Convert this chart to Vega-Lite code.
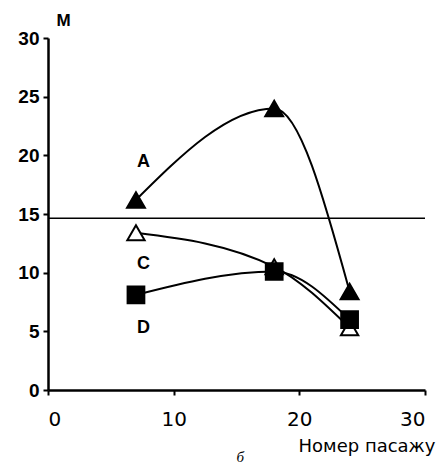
{
  "$schema": "https://vega.github.io/schema/vega-lite/v6.json",
  "autosize": "none",
  "width": 377,
  "height": 352,
  "padding": {"left": 48, "top": 38, "right": 20, "bottom": 78},
  "background": "white",
  "config": {
    "view": {"stroke": null},
    "font": "Liberation Sans",
    "axis": {"grid": false, "domainColor": "black", "domainWidth": 2.5, "tickColor": "black", "tickWidth": 2, "tickSize": 5, "labelColor": "black", "titleColor": "black"}
  },
  "datasets": {
    "series": [
      {"series": "A", "x": 7, "y": 16.2},
      {"series": "A", "x": 18, "y": 24},
      {"series": "A", "x": 24, "y": 8.4},
      {"series": "C", "x": 7, "y": 13.4},
      {"series": "C", "x": 18, "y": 10.5},
      {"series": "C", "x": 24, "y": 5.3},
      {"series": "D", "x": 7, "y": 8.1},
      {"series": "D", "x": 18, "y": 10.1},
      {"series": "D", "x": 24, "y": 6.0}
    ],
    "labels": [
      {"label": "A", "x": 7.6, "y": 19.4},
      {"label": "C", "x": 7.6, "y": 10.7},
      {"label": "D", "x": 7.6, "y": 5.3}
    ],
    "note": [{"label": "б", "x": 15.3, "y": -5.7}],
    "ref": [{"y": 14.63}]
  },
  "layer": [
    {
      "data": {"name": "ref"},
      "mark": {"type": "rule", "color": "black", "strokeWidth": 1.5},
      "encoding": {"y": {"field": "y", "type": "quantitative", "scale": {"domain": [0, 30]}}}
    },
    {
      "data": {"name": "series"},
      "mark": {"type": "line", "color": "black", "strokeWidth": 2, "interpolate": "monotone"},
      "encoding": {
        "x": {"field": "x", "type": "quantitative", "scale": {"domain": [0, 30], "nice": false},
              "axis": {"values": [0, 10, 20, 30], "title": "Номер пасажу", "labelFont": "DejaVu Sans", "labelFontSize": 20, "labelPadding": 14, "titleFont": "DejaVu Sans", "titleFontSize": 18, "titleFontWeight": "normal", "titleX": 387, "titleY": 61, "titleAlign": "right", "titleBaseline": "alphabetic"}},
        "y": {"field": "y", "type": "quantitative", "scale": {"domain": [0, 30], "nice": false},
              "axis": {"values": [0, 5, 10, 15, 20, 25, 30], "title": "M", "titleFont": "Liberation Sans", "titleAngle": 0, "titleX": 15, "titleY": -18, "titleAlign": "center", "titleBaseline": "middle", "titleFontSize": 17, "titleFontWeight": "bold", "labelFont": "Liberation Sans", "labelFontSize": 19, "labelFontWeight": "bold", "labelPadding": 4}},
        "detail": {"field": "series"}
      }
    },
    {
      "data": {"name": "series"},
      "mark": {"type": "point", "filled": true, "stroke": "black", "strokeWidth": 2, "opacity": 1},
      "encoding": {
        "x": {"field": "x", "type": "quantitative"},
        "y": {"field": "y", "type": "quantitative"},
        "shape": {"field": "series", "type": "nominal", "scale": {"domain": ["A", "C", "D"], "range": ["triangle-up", "triangle-up", "square"]}, "legend": null},
        "fill": {"field": "series", "type": "nominal", "scale": {"domain": ["A", "C", "D"], "range": ["black", "white", "black"]}, "legend": null},
        "size": {"field": "series", "type": "nominal", "scale": {"domain": ["A", "C", "D"], "range": [320, 280, 200]}, "legend": null}
      }
    },
    {
      "data": {"name": "labels"},
      "mark": {"type": "text", "fontSize": 18, "fontWeight": "bold", "color": "black", "align": "center", "baseline": "middle"},
      "encoding": {
        "x": {"field": "x", "type": "quantitative"},
        "y": {"field": "y", "type": "quantitative"},
        "text": {"field": "label"}
      }
    },
    {
      "data": {"name": "note"},
      "mark": {"type": "text", "fontSize": 15, "fontStyle": "italic", "font": "Liberation Serif", "color": "black", "align": "center", "baseline": "middle", "clip": false},
      "encoding": {
        "x": {"field": "x", "type": "quantitative"},
        "y": {"field": "y", "type": "quantitative"},
        "text": {"field": "label"}
      }
    }
  ]
}
